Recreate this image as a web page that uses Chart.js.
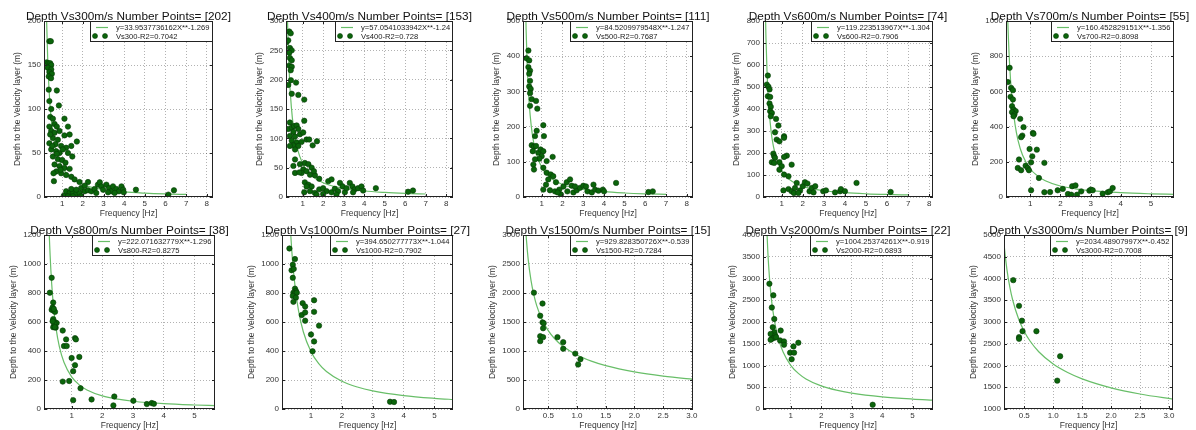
<!DOCTYPE html>
<html lang="en">
<head>
<meta charset="UTF-8">
<title>Depth vs Frequency</title>
<script src="https://cdn.jsdelivr.net/npm/chart.js@4.4.1/dist/chart.umd.min.js"></script>
<style>
  body { margin: 0; background: #fff; }
  #wrap { position: relative; width: 1196px; height: 430px; overflow: hidden; background: #fff; }
  #wrap canvas { position: absolute; }
</style>
</head>
<body>
<div id="wrap"></div>
<script>
// ---- data ----
const speeds = [300, 400, 500, 600, 700, 800, 1000, 1500, 2000, 3000];
const pointCounts = [202, 153, 111, 74, 55, 38, 27, 15, 22, 9];
const fitLabels = ['y=33.9537736162X**-1.269', 'y=57.0541033942X**-1.24', 'y=84.5209979548X**-1.247',
  'y=119.223513967X**-1.304', 'y=160.452829151X**-1.356', 'y=222.071632779X**-1.296',
  'y=394.650277773X**-1.044', 'y=929.828350726X**-0.539', 'y=1004.25374261X**-0.919', 'y=2034.48907997X**-0.452'];
const r2Values = ['0.7042', '0.728', '0.7687', '0.7906', '0.8098', '0.8275', '0.7902', '0.7284', '0.6893', '0.7008'];

// axis [min, max, step]
const xAxes = [[0.12, 8.3, 1], [0.19, 8.33, 1], [0.1, 8.3, 1], [0.11, 8.18, 1], [0.2, 5.76, 1],
  [0.1, 5.67, 1], [0.06, 5.6, 1], [0.06, 3.02, 0.5], [0.09, 5.67, 1], [0.15, 3.07, 0.5]];
const yAxes = [[0, 200, 50], [0, 300, 50], [0, 500, 100], [0, 800, 100], [0, 1000, 200],
  [0, 1200, 200], [0, 1200, 200], [0, 3000, 500], [0, 4000, 500], [1000, 5000, 500]];

// measured points [frequency, depth]
const vs300Pts = [[0.38,177],[0.45,177],[0.25,153],[0.34,152],[0.42,152],[0.47,150],[0.30,147],[0.47,145],[0.38,142],[0.50,140],[0.35,137],[0.46,135],[0.35,122],[0.74,121],[0.38,109],[0.84,104],[0.47,100],[0.42,91],[0.55,89],[1.11,89],[0.38,80],[0.63,83],[0.74,80],[1.28,80],[0.47,75],[0.63,73],[0.87,75],[1.11,70],[1.36,71],[1.71,63],[0.55,67],[0.79,65],[0.38,61],[0.68,60],[0.95,58],[1.19,56],[1.44,58],[0.47,54],[0.71,52],[0.87,50],[1.03,54],[1.28,50],[1.49,46],[0.55,46],[0.79,43],[1.00,42],[1.16,39],[0.63,37],[0.87,35],[1.11,33],[1.36,32],[0.71,29],[0.95,27],[1.19,25],[0.58,27],[0.60,18],[1.44,23],[1.60,20],[1.84,17],[2.25,17],[0.42,71],[0.52,58],[0.74,49],[0.92,31],
  [1.08,1.5],[1.19,6.5],[1.36,4.6],[1.52,5.3],[1.68,3.8],[1.84,4.6],[1.44,9.1],[1.68,8.3],[1.92,10.2],[2.09,6.5],[2.25,7.6],[2.41,6.5],[2.57,9.1],[2.73,14],[2.82,16.7],[2.90,12.1],[2.98,8.3],[3.14,14],[3.27,10.2],[3.38,6.5],[3.46,12.1],[3.62,9.1],[3.75,6.5],[3.87,12.1],[3.95,8.3],[3.98,5.3],[3.54,4.6],[3.22,5.3],[2.65,4.6],[2.09,12.9],[4.57,8.3],[6.41,7.6],[6.14,2.7],[1.28,0.8],[1.52,0.8],[1.92,0.8]];
const vs400Pts = [[0.35,282],[0.42,279],[0.22,264],[0.30,267],[0.38,254],[0.47,250],[0.35,246],[0.38,237],[0.47,233],[0.35,224],[0.47,222],[0.42,216],[0.43,199],[0.30,191],[0.68,195],[0.47,176],[0.79,174],[1.08,166],[1.08,130],[0.38,127],[1.70,95],[0.30,116],[0.47,118],[0.58,121],[0.71,122],[0.79,116],[0.55,111],[0.38,104],[0.63,103],[0.87,107],[1.03,110],[1.19,98],[1.32,98],[0.47,96],[0.71,93],[0.95,94],[0.55,88],[0.79,87],[0.38,87],[1.49,88],[0.63,81],[0.63,64],[0.55,53],[0.63,41],[0.87,56],[1.11,58],[1.28,56],[1.44,50],[1.03,47],[1.19,44],[0.95,41],[1.36,38],[1.60,37],[1.81,31],[1.11,25],[1.28,21],[1.44,18],[0.84,42],[1.55,44],
  [1.08,8],[1.36,10],[1.60,7],[1.81,13],[2.00,15],[2.25,27],[2.41,30],[2.17,10],[2.41,8],[2.57,14],[2.73,10],[2.82,24],[2.95,18],[3.06,8],[3.14,15],[3.30,24],[3.43,18],[3.54,13],[3.70,15],[3.87,18],[3.95,11],[3.46,8],[4.57,15],[6.14,9],[6.38,11],[1.68,4],[2.00,5],[2.65,4],[1.19,18]];
const vs500Pts = [[0.36,416],[0.27,394],[0.40,388],[0.36,369],[0.44,359],[0.40,350],[0.44,330],[0.40,314],[0.47,307],[0.44,295],[0.52,278],[0.73,273],[0.44,259],[0.79,251],[1.08,204],[1.11,173],[0.76,188],[0.68,173],[0.52,147],[0.63,143],[0.73,145],[0.57,130],[0.84,126],[0.95,135],[1.08,130],[1.00,116],[0.89,109],[0.68,107],[0.60,92],[0.63,78],[1.24,102],[1.53,114],[1.08,83],[1.24,69],[1.44,64],[1.56,59],[1.32,50],[1.08,21],[1.69,42],[1.21,35],[1.40,19],[1.64,16],[1.85,21],[2.05,30],[2.21,42],[2.37,50],[2.45,32],[2.24,16],[2.53,13],[2.69,19],[2.85,26],[3.01,32],[3.14,30],[3.21,16],[3.42,13],[3.58,21],[3.74,18],[3.95,21],[4.01,16],[4.59,40],[6.15,14],[6.36,16],[1.93,7],[1.77,13],[2.61,30],[3.50,35]];
const vs600Pts = [[0.34,552],[0.29,511],[0.37,501],[0.42,489],[0.34,458],[0.45,455],[0.42,425],[0.48,410],[0.45,390],[0.53,382],[0.48,367],[0.73,355],[0.84,325],[0.68,294],[0.76,261],[0.89,253],[1.11,276],[1.11,269],[0.60,197],[0.64,185],[0.68,178],[0.53,158],[0.64,155],[0.89,158],[1.24,188],[1.47,147],[1.11,182],[1.00,140],[0.89,124],[1.11,102],[1.32,94],[1.08,30],[1.32,36],[1.47,26],[1.63,41],[1.71,64],[1.87,30],[2.00,49],[2.10,67],[2.22,61],[2.32,26],[2.43,41],[2.51,21],[2.59,49],[2.97,26],[3.10,30],[3.53,21],[3.77,26],[3.81,36],[4.00,26],[4.55,64],[6.17,23],[1.58,18],[1.79,18]];
const vs700Pts = [[0.32,734],[0.26,653],[0.37,620],[0.43,607],[0.35,569],[0.43,554],[0.40,516],[0.45,497],[0.52,488],[0.40,482],[0.48,469],[0.45,459],[0.67,444],[0.78,397],[0.74,349],[0.70,340],[1.09,364],[1.11,359],[0.98,273],[1.22,269],[1.07,231],[0.63,213],[0.85,178],[0.92,165],[0.96,152],[0.59,165],[0.70,152],[1.03,197],[1.29,108],[1.47,194],[1.03,38],[1.47,27],[1.66,28],[1.91,38],[2.08,46],[2.25,17],[2.36,13],[2.39,61],[2.50,66],[2.55,13],[2.69,32],[2.96,36],[3.01,42],[3.07,38],[3.40,19],[3.57,27],[3.64,32],[3.73,51]];
const vs800Pts = [[0.35,905],[0.29,802],[0.35,684],[0.40,734],[0.38,700],[0.42,677],[0.46,670],[0.40,620],[0.46,598],[0.51,593],[0.43,575],[0.40,564],[0.48,561],[0.71,541],[0.75,434],[0.82,480],[0.84,434],[1.11,489],[1.14,480],[1.00,352],[1.25,359],[1.05,261],[1.11,302],[0.92,193],[0.71,189],[1.29,143],[1.05,61],[1.65,66],[2.39,86],[2.36,25],[3.01,57],[3.45,34],[3.61,41],[3.68,36],[0.42,690],[0.44,590],[0.38,605],[0.45,565]];
const vs1000Pts = [[0.30,1107],[0.48,1034],[0.41,995],[0.37,957],[0.44,966],[0.41,905],[0.48,830],[0.51,814],[0.43,802],[0.48,798],[0.54,802],[0.41,780],[0.51,768],[0.43,739],[0.73,730],[1.10,750],[0.70,648],[0.81,666],[1.10,670],[0.81,609],[1.26,575],[1.00,514],[1.10,466],[1.05,398],[3.56,50],[3.69,48],[0.81,707]];
const vs1500Pts = [[0.25,2006],[0.40,1818],[0.36,1608],[0.40,1494],[0.42,1480],[0.41,1392],[0.36,1256],[0.41,1239],[0.36,1170],[0.66,1239],[0.76,1153],[0.76,1040],[0.97,955],[1.06,858],[1.02,767]];
const vs2000Pts = [[0.30,2879],[0.43,2614],[0.38,2333],[0.46,2068],[0.41,1879],[0.46,1765],[0.34,1727],[0.49,1689],[0.38,1614],[0.46,1636],[0.52,1652],[0.34,1591],[0.67,1803],[0.65,1576],[0.78,1553],[0.78,1477],[1.25,1523],[1.09,1439],[0.98,1295],[1.11,1295],[1.03,1144],[3.69,98]];
const vs3000Pts = [[0.31,3962],[0.41,3371],[0.46,3030],[0.41,2652],[0.41,2614],[0.47,2788],[0.71,2788],[1.12,2212],[1.07,1652]];

// fitted curves
const fitX300 = [0.2,0.25,0.3,0.35,0.4,0.5,0.6,0.75,1,1.25,1.5,2,2.5,3,4,5,6,7];
const fitY300 = [261.8,197.3,156.5,128.6,108.6,81.8,64.9,48.9,34.0,25.6,20.3,14.1,10.6,8.4,5.8,4.4,3.5,2.9];
const fitX400 = [0.2,0.25,0.3,0.35,0.4,0.5,0.6,0.75,1,1.25,1.5,2,2.5,3,4,5,6,7];
const fitY400 = [419.8,318.3,253.9,209.7,177.7,134.8,107.5,81.5,57.1,43.3,34.5,24.2,18.3,14.6,10.2,7.8,6.2,5.1];
const fitX500 = [0.2,0.25,0.3,0.35,0.4,0.5,0.6,0.75,1,1.25,1.5,2,2.5,3,4,5,6,7];
const fitY500 = [628.9,476.1,379.3,313.0,265.0,200.6,159.8,121.0,84.5,64.0,51.0,35.6,27.0,21.5,15.0,11.4,9.1,7.5];
const fitX600 = [0.15,0.2,0.25,0.3,0.35,0.4,0.5,0.6,0.75,1,1.25,1.5,2,2.5,3,4,5,6,7];
const fitY600 = [1415,972,726.8,573.1,468.7,393.8,294.4,232.1,173.5,119.2,89.1,70.3,48.3,36.1,28.5,19.6,14.6,11.5,9.4];
const fitX700 = [0.2,0.25,0.3,0.35,0.4,0.5,0.6,0.75,1,1.25,1.5,2,2.5,3,4,5,5.8];
const fitY700 = [1422.8,1051.5,821.1,666.1,555.9,410.8,320.7,237.0,160.5,118.6,92.6,62.7,46.3,36.2,24.5,18.1,14.8];
const fitX800 = [0.15,0.2,0.25,0.3,0.35,0.4,0.5,0.6,0.75,1,1.25,1.5,2,2.5,3,4,5,5.7];
const fitY800 = [2596,1787.9,1338.9,1057.3,865.6,728.2,545.3,430.5,322.4,222.1,166.3,131.3,90.4,67.7,53.5,36.8,27.6,23.3];
const fitX1000 = [0.2,0.25,0.3,0.35,0.4,0.5,0.6,0.75,1,1.25,1.5,2,2.5,3,4,5,5.7];
const fitY1000 = [2118,1678,1387,1180.8,1027.2,813.8,672.7,532.9,394.7,312.6,258.5,191.4,151.6,125.3,92.8,73.5,64.1];
const fitX1500 = [0.1,0.12,0.15,0.2,0.25,0.3,0.4,0.5,0.6,0.75,1,1.25,1.5,2,2.5,3.1];
const fitY1500 = [3216,2916,2585,2214,1963,1779,1523.7,1351,1224.5,1085.9,929.8,824.5,747.3,639.9,567.4,505.3];
const fitX2000 = [0.2,0.25,0.3,0.35,0.4,0.5,0.6,0.75,1,1.25,1.5,2,2.5,3,4,5,5.7];
const fitY2000 = [4407,3590,3037,2635,2331,1899,1606,1308,1004,818,691.8,531,432.6,366,280.8,228.8,202.9];
const fitX3000 = [0.12,0.15,0.2,0.25,0.3,0.4,0.5,0.6,0.75,1,1.25,1.5,2,2.5,3.1];
const fitY3000 = [5305,4796,4211,3807,3506,3078.6,2783,2562.8,2317,2034.5,1839.4,1693.7,1487.2,1344.6,1220.1];

const pointSets = [vs300Pts, vs400Pts, vs500Pts, vs600Pts, vs700Pts, vs800Pts, vs1000Pts, vs1500Pts, vs2000Pts, vs3000Pts];
const fitXs = [fitX300, fitX400, fitX500, fitX600, fitX700, fitX800, fitX1000, fitX1500, fitX2000, fitX3000];
const fitYs = [fitY300, fitY400, fitY500, fitY600, fitY700, fitY800, fitY1000, fitY1500, fitY2000, fitY3000];

// ---- layout (page pixels: plot left, top, right, bottom) ----
const plotBoxes = [[44,21,213,197],[286,21,453,197],[523,21,693,197],[763,21,933,197],[1006,21,1174,197],
  [44,235,215,409],[282,235,453,409],[523,235,693,409],[763,235,933,409],[1004,235,1173,409]];

const FAM = "'Liberation Sans', Arial, sans-serif";
const DOT = '#0b650b', DOT_EDGE = '#073a07', FIT = 'rgb(104,190,104)';
const INK = '#222';

const meas = document.createElement('canvas').getContext('2d');
meas.font = '8px ' + FAM;

// frame, inward ticks, legend box and title
const panelDecor = {
  id: 'panelDecor',
  afterDraw(chart, args, o) {
    const {ctx, chartArea: a, scales: {x, y}} = chart;
    ctx.save();
    ctx.strokeStyle = INK;
    ctx.lineWidth = 1;
    ctx.beginPath();
    x.ticks.forEach(t => {
      const px = Math.round(x.getPixelForValue(t.value)) + 0.5;
      ctx.moveTo(px, a.bottom); ctx.lineTo(px, a.bottom - 3);
      ctx.moveTo(px, a.top); ctx.lineTo(px, a.top + 3);
    });
    y.ticks.forEach(t => {
      const py = Math.round(y.getPixelForValue(t.value)) + 0.5;
      ctx.moveTo(a.left, py); ctx.lineTo(a.left + 3, py);
      ctx.moveTo(a.right, py); ctx.lineTo(a.right - 3, py);
    });
    ctx.stroke();
    ctx.strokeRect(a.left + 0.5, a.top + 0.5, a.width - 1, a.height - 1);

    // legend
    ctx.font = '7.6px ' + FAM;
    const tw = Math.max(ctx.measureText(o.eq).width, ctx.measureText(o.r2).width);
    const bw = Math.round(26 + tw + 3), bh = 21;
    const bx = Math.round(a.right) - bw, by = Math.round(a.top);
    ctx.fillStyle = '#fff';
    ctx.fillRect(bx, by, bw, bh);
    ctx.strokeRect(bx + 0.5, by + 0.5, bw - 1, bh - 1);
    ctx.strokeStyle = FIT;
    ctx.lineWidth = 1.2;
    ctx.beginPath();
    ctx.moveTo(bx + 6, by + 6.5); ctx.lineTo(bx + 18, by + 6.5);
    ctx.stroke();
    ctx.fillStyle = DOT; ctx.strokeStyle = DOT_EDGE; ctx.lineWidth = 0.6;
    [bx + 5, bx + 15].forEach(cx => {
      ctx.beginPath(); ctx.arc(cx, by + 15, 2.5, 0, Math.PI * 2); ctx.fill(); ctx.stroke();
    });
    ctx.fillStyle = INK;
    ctx.textBaseline = 'middle';
    ctx.textAlign = 'left';
    ctx.fillText(o.eq, bx + 26, by + 6.5);
    ctx.fillText(o.r2, bx + 26, by + 15.5);

    // title
    ctx.font = '11.8px ' + FAM;
    ctx.fillStyle = '#111';
    ctx.textAlign = 'center';
    ctx.textBaseline = 'alphabetic';
    ctx.fillText(o.title, (a.left + a.right) / 2, a.top - 1.5);
    ctx.restore();
  }
};

const wrap = document.getElementById('wrap');
const H = 226;

plotBoxes.forEach((b, i) => {
  const [l, t, r, bt] = b;
  const top = i < 5 ? 0 : 206;
  const cv = document.createElement('canvas');
  cv.width = (r - l) + 120;
  cv.height = H;
  cv.style.left = (l - 60) + 'px';
  cv.style.top = top + 'px';
  wrap.appendChild(cv);

  const [xmin, xmax, xstep] = xAxes[i];
  const [ymin, ymax, ystep] = yAxes[i];
  const labW = meas.measureText(String(ymax)).width;
  const yTitleCenter = 60 - 3 - labW - 10;

  new Chart(cv, {
    type: 'scatter',
    data: {
      datasets: [{
        label: 'Vs' + speeds[i] + '-R2=' + r2Values[i],
        data: pointSets[i].map(p => ({x: p[0], y: p[1]})),
        backgroundColor: DOT,
        borderColor: DOT_EDGE,
        borderWidth: 0.6,
        pointRadius: 2.7
      }, {
        label: fitLabels[i],
        data: fitXs[i].map((v, k) => ({x: v, y: fitYs[i][k]})),
        showLine: true,
        pointRadius: 0,
        borderColor: FIT,
        borderWidth: 1.2,
        cubicInterpolationMode: 'monotone'
      }]
    },
    options: {
      responsive: false,
      animation: false,
      events: [],
      layout: {padding: {left: 0, right: 60, top: t - top, bottom: 0}},
      plugins: {
        legend: {display: false},
        tooltip: {enabled: false},
        panelDecor: {
          title: 'Depth Vs' + speeds[i] + 'm/s Number Points= [' + pointCounts[i] + ']',
          eq: fitLabels[i],
          r2: 'Vs' + speeds[i] + '-R2=' + r2Values[i]
        }
      },
      scales: {
        x: {
          type: 'linear',
          min: xmin, max: xmax,
          afterFit: s => { s.height = top + H - bt; },
          ticks: {
            stepSize: xstep, includeBounds: false, autoSkip: false, maxRotation: 0, padding: 2,
            color: '#333', font: {family: FAM, size: 8},
            callback: v => xstep < 1 ? v.toFixed(1) : String(v)
          },
          grid: {color: 'rgba(0,0,0,0.3)', drawTicks: false},
          border: {display: false, dash: [1, 2]},
          title: {
            display: true, text: 'Frequency [Hz]', color: '#333',
            font: {family: FAM, size: 8.5, lineHeight: 1},
            padding: {top: 0, bottom: (top + H) - (bt + 17) - 4.25}
          }
        },
        y: {
          min: ymin, max: ymax,
          afterFit: s => { s.width = 60; },
          ticks: {
            stepSize: ystep, includeBounds: false, autoSkip: false, padding: 3,
            color: '#333', font: {family: FAM, size: 8},
            callback: v => String(v)
          },
          grid: {color: 'rgba(0,0,0,0.3)', drawTicks: false},
          border: {display: false, dash: [1, 2]},
          title: {
            display: true, text: 'Depth to the Velocity layer (m)', color: '#333',
            font: {family: FAM, size: 8.5, lineHeight: 1},
            padding: {top: yTitleCenter - 4.25, bottom: 0}
          }
        }
      }
    },
    plugins: [panelDecor]
  });
});
</script>
</body>
</html>
